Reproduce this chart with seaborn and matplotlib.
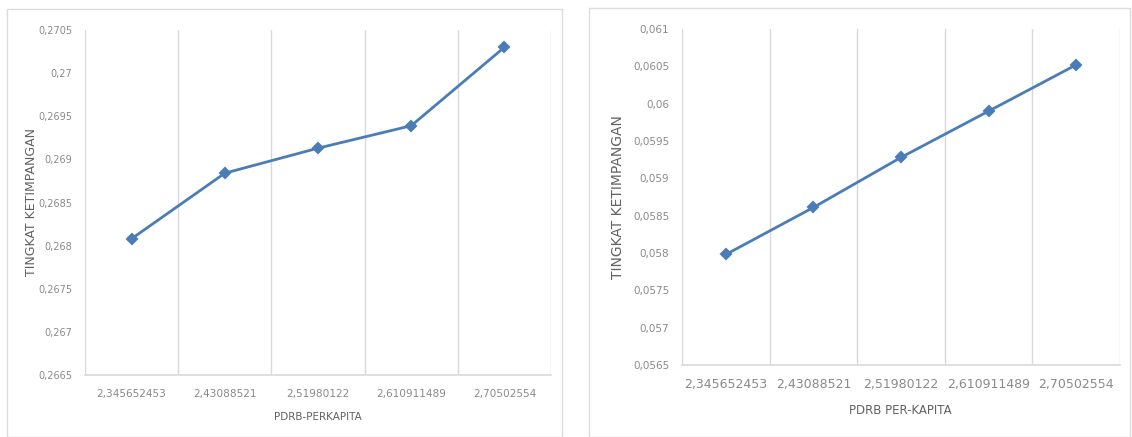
import matplotlib
matplotlib.use("Agg")
import matplotlib.pyplot as plt
from matplotlib.ticker import FuncFormatter, MultipleLocator
from matplotlib.patches import Rectangle
import numpy as np
import pandas as pd
import seaborn as sns

# PDRB per capita categories (shared by both panels)
pdrb_labels = ["2,345652453", "2,43088521", "2,51980122", "2,610911489", "2,70502554"]

# Inequality level, left panel
ketimpangan_kiri = [0.26808, 0.26884, 0.26913, 0.26939, 0.27030]
# Inequality level, right panel
ketimpangan_kanan = [0.05798, 0.05861, 0.05928, 0.05990, 0.06052]

ylim_kiri = (0.2665, 0.2705)
ylim_kanan = (0.0565, 0.061)

LINE = "#4a7db8"
TICK = "#8a8a8a"
LABEL = "#626262"
AXLINE = "#d9d9d9"

sns.set_theme(style="white")
plt.rcParams["font.family"] = ["DejaVu Sans"]

W, H = 1132, 437
fig = plt.figure(figsize=(W / 100, H / 100), dpi=100)


def px_axes(x0, y0, x1, y1):
    return fig.add_axes([x0 / W, 1 - y1 / H, (x1 - x0) / W, (y1 - y0) / H])


def comma_fmt(v, _):
    return f"{round(v, 6):g}".replace(".", ",")


def panel(ax, values, ylim, xfs, yfs, xpad, ypad):
    df = pd.DataFrame({"pdrb": pdrb_labels, "nilai": values})
    sns.pointplot(data=df, x="pdrb", y="nilai", order=pdrb_labels, ax=ax,
                  color=LINE, markers="D", markersize=5, linewidth=2.0,
                  errorbar=None)
    ax.set_xlim(-0.5, len(pdrb_labels) - 0.5)
    ax.set_ylim(*ylim)
    ax.yaxis.set_major_locator(MultipleLocator(0.0005))
    ax.yaxis.set_major_formatter(FuncFormatter(comma_fmt))
    # category boundaries as vertical gridlines
    for b in np.arange(-0.5, len(pdrb_labels), 1.0):
        ax.axvline(b, color=AXLINE, lw=1.0, zorder=0)
    for s in ["top", "right", "left"]:
        ax.spines[s].set_visible(False)
    ax.spines["bottom"].set_color(AXLINE)
    ax.spines["bottom"].set_linewidth(1.2)
    ax.tick_params(axis="x", length=0, labelsize=xfs, labelcolor=TICK, pad=xpad)
    ax.tick_params(axis="y", length=0, labelsize=yfs, labelcolor=TICK, pad=ypad)
    ax.set_xlabel("")
    ax.set_ylabel("")
    ax.set_facecolor("white")


# chart frames
fig.patches.append(Rectangle((7 / W, 0), (562 - 7) / W, 1 - 9 / H,
                             transform=fig.transFigure, fill=False,
                             edgecolor="#dcdcdc", lw=1.0))
fig.patches.append(Rectangle((589 / W, 0), (1130 - 589) / W, 1 - 8 / H,
                             transform=fig.transFigure, fill=False,
                             edgecolor="#dcdcdc", lw=1.0))

ax1 = px_axes(85, 30, 551, 375)
panel(ax1, ketimpangan_kiri, ylim_kiri, xfs=7.6, yfs=7, xpad=10, ypad=9)
fig.text(32 / W, 1 - 202 / H, "TINGKAT KETIMPANGAN", rotation=90,
         ha="center", va="center", fontsize=9, color=LABEL)
fig.text(318 / W, 1 - 417 / H, "PDRB-PERKAPITA", ha="center", va="center",
         fontsize=7.5, color=LABEL)

ax2 = px_axes(682, 29, 1120, 365)
panel(ax2, ketimpangan_kanan, ylim_kanan, xfs=9, yfs=7.5, xpad=9.5, ypad=9)
fig.text(618 / W, 1 - 197 / H, "TINGKAT KETIMPANGAN", rotation=90,
         ha="center", va="center", fontsize=10, color=LABEL)
fig.text(900 / W, 1 - 410 / H, "PDRB PER-KAPITA", ha="center", va="center",
         fontsize=8.5, color=LABEL)

fig.savefig("out.png", dpi=100, facecolor="white")
